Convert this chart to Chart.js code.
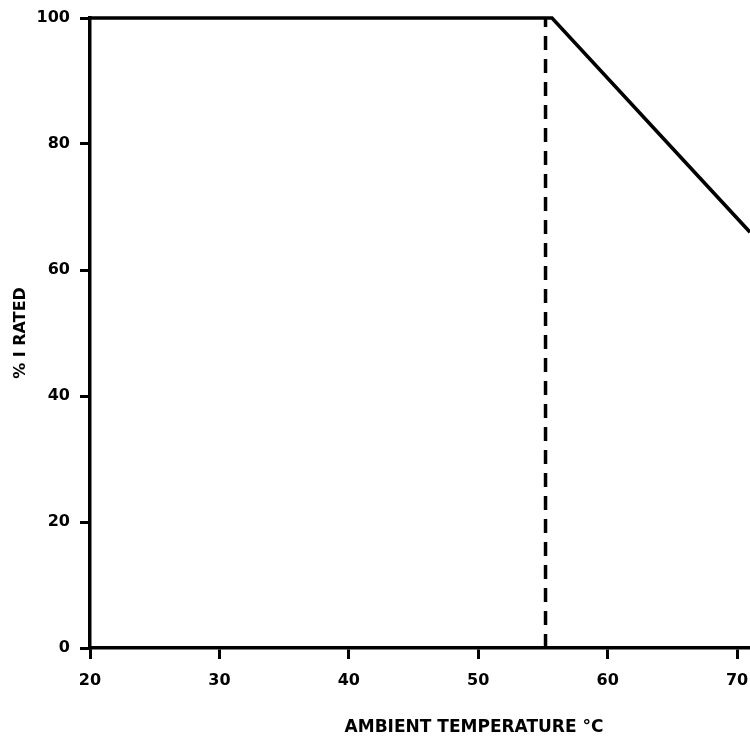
<!DOCTYPE html>
<html>
<head>
<meta charset="utf-8">
<script src="https://cdn.jsdelivr.net/npm/chart.js@4/dist/chart.umd.min.js"></script>
<style>
html,body{margin:0;padding:0;background:#fff;}
#wrap{width:750px;height:744px;}
</style>
</head>
<body>
<div id="wrap"><canvas id="c" width="750" height="744"></canvas></div>
<script>
const curveX = [20, 55.7, 71];
const curveY = [100, 100, 66];
const dashX = [55.2, 55.2];
const dashY = [0, 100];
const xTicks = [20, 30, 40, 50, 60, 70];
const yTicks = [0, 20, 40, 60, 80, 100];
const xTitle = 'AMBIENT TEMPERATURE °C';
const yTitle = '% I RATED';

const FONT = '"DejaVu Sans", sans-serif';

const xTitlePlugin = {
  id: 'xTitlePlugin',
  afterDraw(chart) {
    const ctx = chart.ctx;
    ctx.save();
    ctx.font = 'bold 17px ' + FONT;
    ctx.fillStyle = '#000';
    ctx.textAlign = 'center';
    ctx.textBaseline = 'middle';
    ctx.fillText(xTitle, 474, 728);
    ctx.restore();
  }
};

new Chart(document.getElementById('c'), {
  type: 'scatter',
  data: {
    datasets: [
      {
        data: curveX.map((x, i) => ({x, y: curveY[i]})),
        showLine: true,
        borderColor: '#000',
        borderWidth: 3.5,
        pointRadius: 0,
        tension: 0,
        clip: false
      },
      {
        data: dashX.map((x, i) => ({x, y: dashY[i]})),
        showLine: true,
        borderColor: '#000',
        borderWidth: 3.5,
        borderDash: [14, 9],
        pointRadius: 0,
        tension: 0
      }
    ]
  },
  options: {
    responsive: false,
    animation: false,
    devicePixelRatio: 1,
    layout: {padding: {top: 18, right: 0, left: 0, bottom: 0}},
    plugins: {legend: {display: false}, tooltip: {enabled: false}},
    scales: {
      x: {
        type: 'linear',
        min: 20, max: 71,
        afterFit(s) { s.height = 96; s.paddingLeft = 0; s.paddingRight = 0; },
        afterBuildTicks(s) { s.ticks = xTicks.map(v => ({value: v})); },
        ticks: {
          color: '#000',
          padding: 12,
          font: {family: FONT, weight: 'bold', size: 16}
        },
        grid: {drawOnChartArea: false, drawTicks: true, tickLength: 11, color: '#000', lineWidth: 3},
        border: {display: true, color: '#000', width: 3.5},
        title: {display: false}
      },
      y: {
        min: 0, max: 100,
        afterFit(s) { s.width = 90; s.paddingTop = 0; s.paddingBottom = 0; },
        afterBuildTicks(s) { s.ticks = yTicks.map(v => ({value: v})); },
        ticks: {
          color: '#000',
          padding: 10,
          font: {family: FONT, weight: 'bold', size: 16}
        },
        grid: {drawOnChartArea: false, drawTicks: true, tickLength: 10, color: '#000', lineWidth: 3},
        border: {display: true, color: '#000', width: 3.5},
        title: {
          display: true,
          text: yTitle,
          color: '#000',
          padding: {top: 11, bottom: 0},
          font: {family: FONT, weight: 'bold', size: 16}
        }
      }
    }
  },
  plugins: [xTitlePlugin]
});
</script>
</body>
</html>
